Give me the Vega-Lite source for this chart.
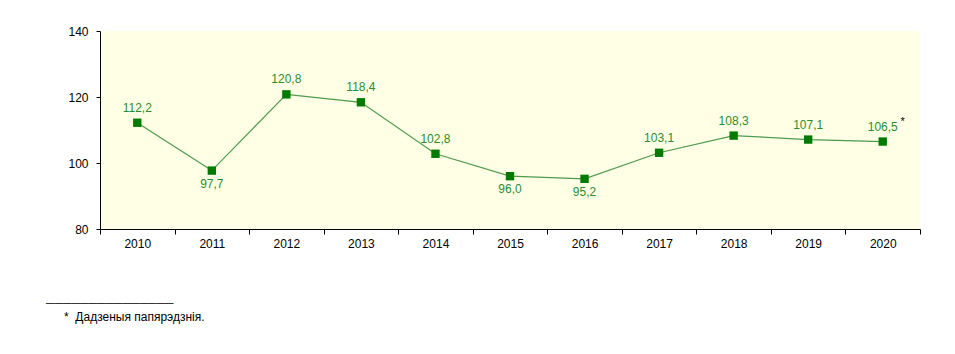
{
  "$schema": "https://vega.github.io/schema/vega-lite/v6.json",
  "autosize": {"type": "none"},
  "padding": {"left": 100, "top": 31, "right": 35, "bottom": 125},
  "width": 820,
  "height": 198,
  "background": "white",
  "config": {
    "font": "Liberation Sans",
    "view": {"fill": "#FFFFE5", "stroke": null},
    "locale": {"number": {"decimal": ",", "thousands": " ", "grouping": [3], "currency": ["", ""]}}
  },
  "title": {
    "text": ["───────────────", "\u2800\u2800*\u00a0\u00a0Дадзеныя папярэдзнія."],
    "orient": "bottom",
    "anchor": "start",
    "frame": "group",
    "dx": -54,
    "offset": 49,
    "fontSize": 12,
    "fontWeight": "normal",
    "color": "black",
    "lineHeight": 14
  },
  "data": {
    "values": [
      {"year": "2010", "value": 112.2},
      {"year": "2011", "value": 97.7},
      {"year": "2012", "value": 120.8},
      {"year": "2013", "value": 118.4},
      {"year": "2014", "value": 102.8},
      {"year": "2015", "value": 96.0},
      {"year": "2016", "value": 95.2},
      {"year": "2017", "value": 103.1},
      {"year": "2018", "value": 108.3},
      {"year": "2019", "value": 107.1},
      {"year": "2020", "value": 106.5}
    ]
  },
  "encoding": {
    "x": {
      "field": "year", "type": "ordinal",
      "scale": {"type": "band", "paddingInner": 0, "paddingOuter": 0},
      "axis": {"title": null, "labelAngle": 0, "tickBand": "extent", "domainColor": "black", "tickColor": "black", "tickSize": 5, "labelFontSize": 12, "labelColor": "black", "labelPadding": 4}
    },
    "y": {
      "field": "value", "type": "quantitative",
      "scale": {"domain": [80, 140], "nice": false, "zero": false},
      "axis": {"title": null, "values": [80, 100, 120, 140], "grid": false, "domainColor": "black", "tickColor": "black", "tickSize": 4, "labelFontSize": 12, "labelColor": "black", "labelPadding": 8}
    }
  },
  "layer": [
    {"mark": {"type": "line", "color": "#4E9A4E", "strokeWidth": 1.2}},
    {"mark": {"type": "square", "color": "#007A00", "opacity": 1, "filled": true, "size": 70}},
    {
      "transform": [{"filter": "datum.value >= 100"}],
      "mark": {"type": "text", "color": "#2E8B2E", "baseline": "bottom", "dy": -8, "fontSize": 12},
      "encoding": {"text": {"field": "value", "type": "quantitative", "format": ".1f"}}
    },
    {
      "transform": [{"filter": "datum.value < 100"}],
      "mark": {"type": "text", "color": "#2E8B2E", "baseline": "top", "dy": 8, "fontSize": 12},
      "encoding": {"text": {"field": "value", "type": "quantitative", "format": ".1f"}}
    },
    {
      "transform": [{"filter": "datum.year == '2020'"}],
      "mark": {"type": "text", "color": "black", "baseline": "bottom", "dx": 20, "dy": -15, "fontSize": 11, "text": "*"}
    }
  ]
}
